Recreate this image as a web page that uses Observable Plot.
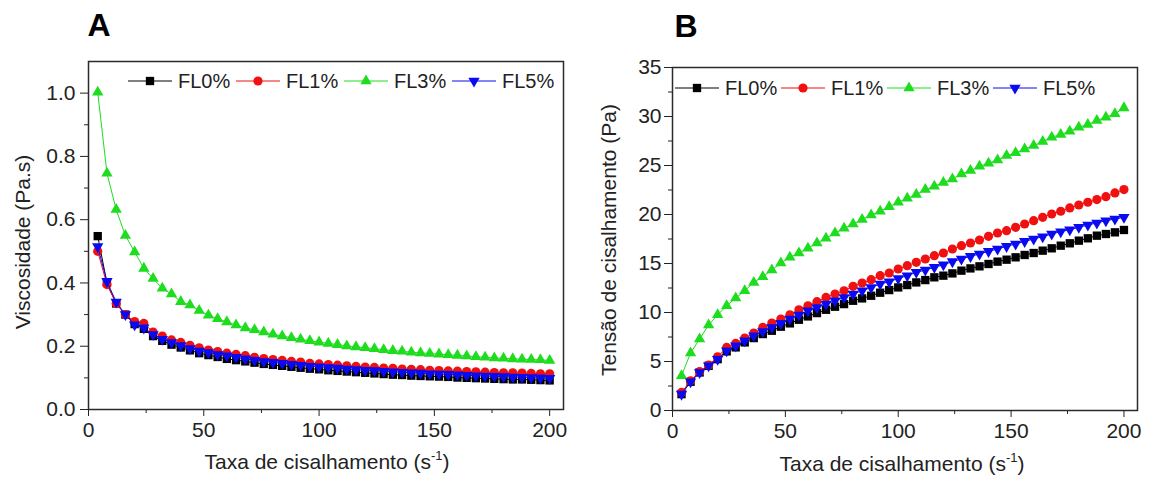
<!DOCTYPE html>
<html><head><meta charset="utf-8">
<script src="https://cdn.jsdelivr.net/npm/d3@7"></script>
<script src="https://cdn.jsdelivr.net/npm/@observablehq/plot@0.6"></script>
<style>
body{margin:0;background:#fff;}
#wrap{position:relative;width:1149px;height:483px;overflow:hidden;}
#wrap > div{position:absolute;top:0;}
#overlay{position:absolute;left:0;top:0;pointer-events:none;}
</style>
</head><body>
<div id="wrap">
  <div id="pa" style="left:0"></div>
  <div id="pb" style="left:575px"></div>
  <svg id="overlay" width="1149" height="483"></svg>
</div>
<script>
// ---------- data ----------
const shearRate = [4,8,12,16,20,24,28,32,36,40,44,48,52,56,60,64,68,72,76,80,84,88,92,96,100,104,108,112,116,120,124,128,132,136,140,144,148,152,156,160,164,168,172,176,180,184,188,192,196,200];
const seriesNames = ["FL0%","FL1%","FL3%","FL5%"];
const seriesColors = ["#000000","#f01010","#1edc1e","#0a0af0"];

// Panel A: viscosity (Pa.s)
const viscFL0 = [0.548,0.400,0.335,0.300,0.270,0.255,0.232,0.217,0.205,0.196,0.187,0.178,0.172,0.166,0.160,0.156,0.152,0.148,0.144,0.141,0.138,0.135,0.132,0.129,0.127,0.124,0.122,0.120,0.118,0.116,0.114,0.112,0.110,0.109,0.107,0.106,0.105,0.104,0.103,0.101,0.100,0.099,0.098,0.097,0.096,0.095,0.095,0.094,0.093,0.092];
const viscFL1 = [0.500,0.395,0.335,0.300,0.278,0.272,0.245,0.232,0.220,0.212,0.203,0.195,0.188,0.183,0.178,0.174,0.170,0.165,0.161,0.158,0.155,0.152,0.150,0.146,0.144,0.142,0.140,0.138,0.136,0.134,0.133,0.131,0.130,0.128,0.127,0.126,0.124,0.123,0.122,0.121,0.120,0.119,0.118,0.117,0.116,0.116,0.115,0.114,0.113,0.113];
const viscFL3 = [1.003,0.747,0.632,0.550,0.498,0.446,0.414,0.383,0.365,0.341,0.330,0.313,0.298,0.287,0.277,0.267,0.258,0.252,0.245,0.238,0.232,0.227,0.222,0.217,0.213,0.209,0.205,0.201,0.198,0.195,0.192,0.189,0.186,0.184,0.181,0.179,0.177,0.175,0.173,0.171,0.169,0.167,0.165,0.163,0.162,0.160,0.159,0.158,0.157,0.155];
const viscFL5 = [0.515,0.405,0.340,0.300,0.268,0.258,0.237,0.222,0.212,0.202,0.193,0.185,0.180,0.174,0.170,0.165,0.160,0.156,0.152,0.149,0.146,0.143,0.140,0.137,0.135,0.133,0.131,0.128,0.126,0.124,0.123,0.121,0.119,0.118,0.116,0.115,0.113,0.112,0.111,0.110,0.108,0.107,0.106,0.105,0.104,0.103,0.102,0.101,0.100,0.099];

// Panel B: shear stress (Pa)
const stressFL0 = [1.67,2.93,3.88,4.56,5.24,6.03,6.44,6.95,7.39,7.80,8.14,8.55,8.89,9.26,9.60,9.94,10.28,10.59,10.86,11.20,11.44,11.71,12.02,12.29,12.56,12.80,13.07,13.31,13.59,13.76,13.99,14.27,14.50,14.71,14.95,15.19,15.39,15.63,15.87,16.07,16.31,16.55,16.82,17.06,17.33,17.57,17.84,18.01,18.18,18.42];
const stressFL1 = [1.84,3.03,3.98,4.63,5.48,6.44,6.84,7.39,7.90,8.48,8.92,9.33,9.77,10.28,10.69,11.10,11.54,11.88,12.22,12.67,13.01,13.35,13.76,14.03,14.44,14.78,15.12,15.46,15.80,16.07,16.48,16.82,17.09,17.40,17.77,18.11,18.35,18.69,19.03,19.37,19.71,20.05,20.33,20.67,20.97,21.25,21.52,21.82,22.20,22.54];
const stressFL3 = [3.54,5.86,7.29,8.72,9.77,10.69,11.47,12.22,13.07,13.65,14.33,15.05,15.63,16.07,16.55,17.09,17.57,18.11,18.59,19.03,19.48,19.95,20.33,20.80,21.25,21.65,22.03,22.54,22.88,23.26,23.63,24.14,24.48,24.92,25.23,25.57,26.01,26.29,26.69,27.03,27.44,27.89,28.16,28.50,28.91,29.18,29.59,29.93,30.27,30.88];
const stressFL5 = [1.67,2.93,3.88,4.56,5.24,6.09,6.60,7.12,7.63,8.07,8.48,8.89,9.33,9.74,10.18,10.52,10.86,11.20,11.54,11.88,12.22,12.56,12.90,13.14,13.48,13.76,14.10,14.33,14.61,14.88,15.19,15.46,15.73,15.97,16.24,16.48,16.75,16.99,17.26,17.50,17.74,18.01,18.25,18.45,18.69,18.93,19.14,19.37,19.54,19.71];

const xTicks = [0,50,100,150,200];
const xMinor = [25,75,125,175];
const yTicksA = [0,0.2,0.4,0.6,0.8,1.0];
const yMinorA = [0.1,0.3,0.5,0.7,0.9];
const yTicksB = [0,5,10,15,20,25,30,35];
const yMinorB = [2.5,7.5,12.5,17.5,22.5,27.5,32.5];

// ---------- symbols ----------
const triDown = {
  draw(ctx, size) {
    const y = -Math.sqrt(size / (Math.sqrt(3) * 3));
    ctx.moveTo(0, -y * 2);
    ctx.lineTo(-Math.sqrt(3) * y, y);
    ctx.lineTo(Math.sqrt(3) * y, y);
    ctx.closePath();
  }
};
const symbols = ["square","circle","triangle",triDown];
const radii = [4.7,4.6,4.2,4.2];
const FONT = "Liberation Sans, Arial, sans-serif";

function makePanel(values, yDomain, yT, yM, geom) {
  const marks = [];
  values.forEach((vals, i) => {
    const rows = shearRate.map((x, j) => ({x, y: vals[j]}));
    marks.push(Plot.line(rows, {x:"x", y:"y", stroke: seriesColors[i], strokeWidth: 1}));
    marks.push(Plot.dot(rows, {x:"x", y:"y", symbol: symbols[i], fill: seriesColors[i], stroke: "none", r: radii[i]}));
  });
  marks.push(
    Plot.axisX({ticks: xTicks, tickSize: 7, tickPadding: 6, label: null, tickFormat: d => String(d)}),
    Plot.axisX({ticks: xMinor, tickSize: 4, label: null, tickFormat: () => ""}),
    Plot.axisY({ticks: yT, tickSize: 8, tickPadding: geom.yPad, label: null, tickFormat: geom.fmt}),
    Plot.axisY({ticks: yM, tickSize: 4, label: null, tickFormat: () => ""}),
    Plot.frame({stroke: "#2a2a2a", strokeWidth: 1.5})
  );
  return Plot.plot({
    width: geom.width, height: 483,
    marginLeft: geom.ml, marginRight: geom.mr, marginTop: geom.mt, marginBottom: geom.mb,
    x: {domain: [0, 206]},
    y: {domain: yDomain},
    style: {fontFamily: FONT, fontSize: "21px", color: "#222", background: "transparent", overflow: "visible"},
    marks
  });
}

document.getElementById("pa").appendChild(makePanel(
  [viscFL0, viscFL1, viscFL3, viscFL5], [0, 1.1], yTicksA, yMinorA,
  {width: 575, ml: 88, mr: 12, mt: 61, mb: 74, yPad: 5, fmt: d => d.toFixed(1)}
));
document.getElementById("pb").appendChild(makePanel(
  [stressFL0, stressFL1, stressFL3, stressFL5], [0, 35], yTicksB, yMinorB,
  {width: 574, ml: 97, mr: 12, mt: 67, mb: 73, yPad: 3, fmt: d => String(d)}
));

// ---------- overlay: letters, titles, legends ----------
const ov = d3.select("#overlay");
ov.append("text").attr("x", 99).attr("y", 36).attr("text-anchor","middle")
  .attr("font-family", FONT).attr("font-weight","bold").attr("font-size", 32).text("A");
ov.append("text").attr("x", 686).attr("y", 37).attr("text-anchor","middle")
  .attr("font-family", FONT).attr("font-weight","bold").attr("font-size", 32).text("B");

function xTitle(cx, y) {
  const t = ov.append("text").attr("x", cx).attr("y", y).attr("text-anchor","middle")
    .attr("font-family", FONT).attr("font-size", 21).attr("fill", "#222");
  t.append("tspan").text("Taxa de cisalhamento (s");
  t.append("tspan").attr("dy", -9).attr("font-size", 13).text("-1");
  t.append("tspan").attr("dy", 9).text(")");
}
xTitle(327, 469);
xTitle(902, 471);

function yTitle(x, cy, label) {
  ov.append("text").attr("transform", `translate(${x},${cy}) rotate(-90)`)
    .attr("text-anchor","middle").attr("font-family", FONT).attr("font-size", 21)
    .attr("fill", "#222").text(label);
}
yTitle(30, 242, "Viscosidade (Pa.s)");
yTitle(616, 240, "Tensão de cisalhamento (Pa)");

function legend(x0, y, step) {
  seriesNames.forEach((name, i) => {
    const x = x0 + i * step;
    ov.append("line").attr("x1", x).attr("x2", x + 44).attr("y1", y).attr("y2", y)
      .attr("stroke", seriesColors[i]).attr("stroke-width", 1);
    const symType = {square: d3.symbolSquare, circle: d3.symbolCircle, triangle: d3.symbolTriangle}[symbols[i]] || symbols[i];
    const r = radii[i];
    ov.append("path").attr("transform", `translate(${x + 22},${y})`)
      .attr("d", d3.symbol(symType, Math.PI * r * r)()).attr("fill", seriesColors[i]);
    ov.append("text").attr("x", x + 50).attr("y", y + 7).attr("font-family", FONT)
      .attr("font-size", 20).attr("fill", "#222").text(name);
  });
}
legend(128, 81, 108);
legend(675, 88, 106);
</script>
</body></html>
